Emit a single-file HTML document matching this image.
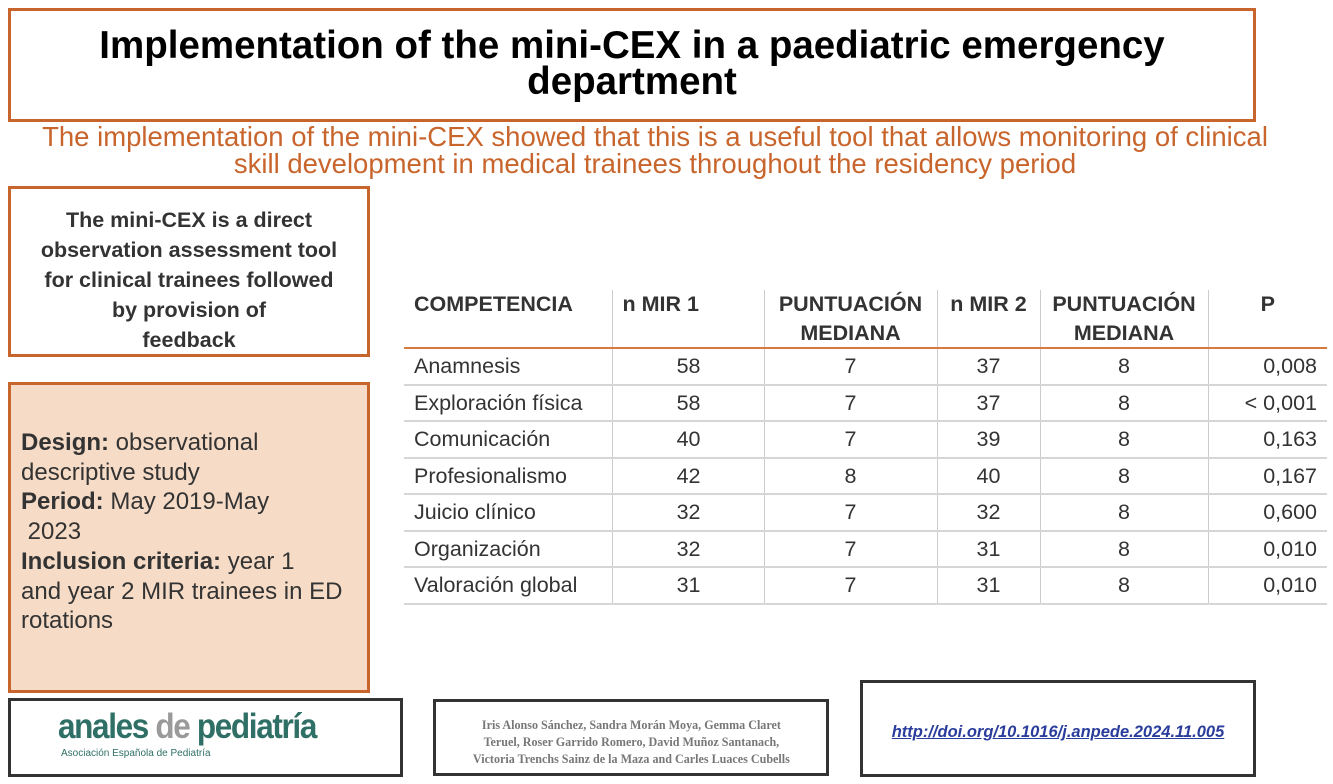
<!DOCTYPE html>
<html><head><meta charset="utf-8"><style>
body{margin:0;width:1333px;height:784px;background:#fff;position:relative;overflow:hidden;font-family:"Liberation Sans",sans-serif}
.abs{position:absolute;box-sizing:border-box}
#title{left:8px;top:8px;width:1248px;height:114px;border:3px solid #c8652c;text-align:center;font-weight:bold;font-size:38.5px;line-height:36px;padding-top:17px;color:#000}
#sub{left:0;top:123px;width:1310px;text-align:center;color:#c8652c;font-size:27.5px;line-height:27px}
#b1{left:8px;top:186px;width:362px;height:171px;border:3px solid #c8652c;text-align:center;font-weight:bold;font-size:21.5px;line-height:30px;color:#333;padding-top:16px}
#b2{left:8px;top:382px;width:362px;height:311px;border:3px solid #c8652c;background:#f6dcc6;font-size:24px;line-height:29.7px;color:#333;padding:43px 0 0 10px}
table{border-collapse:collapse;font-size:21.5px;color:#333}
td,th{padding:0 10px;border-left:1px solid #ccc}
td:first-child,th:first-child{border-left:none}
th{font-weight:bold;height:56px;vertical-align:top;line-height:28.5px;padding-top:0;border-bottom:2px solid #d67a3e}
td{height:34.5px;border-bottom:2px solid #d6d6d6;line-height:34px;padding-top:0;padding-bottom:0}
.bx{border:3px solid #333;background:#fff}
</style></head><body>
<div id="title" class="abs">Implementation of the mini-CEX in a paediatric emergency<br>department</div>
<div id="sub" class="abs">The implementation of the mini-CEX showed that this is a useful tool that allows monitoring of clinical<br>skill development in medical trainees throughout the residency period</div>
<div id="b1" class="abs">The mini-CEX is a direct<br>observation assessment tool<br>for clinical trainees followed<br>by provision of<br>feedback</div>
<div id="b2" class="abs"><b>Design:</b> observational<br>descriptive study<br><b>Period:</b> May 2019-May<br>&nbsp;2023<br><b>Inclusion criteria:</b> year 1<br>and year 2 MIR trainees in ED<br>rotations</div>
<table class="abs" style="left:404px;top:290px;width:923px">
<colgroup><col style="width:208px"><col style="width:152px"><col style="width:173px"><col style="width:103px"><col style="width:168px"><col style="width:119px"></colgroup>
<tr><th style="text-align:left">COMPETENCIA</th><th style="text-align:left">n MIR 1</th><th>PUNTUACIÓN<br>MEDIANA</th><th style="padding:0">n MIR 2</th><th>PUNTUACIÓN<br>MEDIANA</th><th>P</th></tr>
<tbody id="tb"></tbody></table>
<div class="abs bx" style="left:8px;top:698px;width:395px;height:79px">
<div style="position:absolute;left:47px;top:6px;font-size:35px;font-weight:bold;color:#2f6f66;letter-spacing:-1.5px;transform:scaleX(0.9);transform-origin:left">anales <span style="color:#9a9a9a">de</span> pediatría</div>
<div style="position:absolute;left:50px;top:47px;font-size:10px;color:#2f6f66">Asociación Española de Pediatría</div></div>
<div class="abs bx" style="left:433px;top:699px;width:396px;height:77px;font-family:'Liberation Serif',serif;font-weight:bold;font-size:13px;color:#777;line-height:17px;padding:14px 10px 0 10px;text-align:center;white-space:nowrap"><span style="display:inline-block;transform:scaleX(0.93)">Iris Alonso Sánchez, Sandra Morán Moya, Gemma Claret<br>Teruel, Roser Garrido Romero, David Muñoz Santanach,<br>Victoria Trenchs Sainz de la Maza and Carles Luaces Cubells</span></div>
<div class="abs bx" style="left:860px;top:680px;width:396px;height:97px;text-align:center;padding-top:40px"><span style="color:#2a3d9c;font-style:italic;font-weight:bold;font-size:16.5px;text-decoration:underline">http://doi.org/10.1016/j.anpede.2024.11.005</span></div>
<script>
const competencias=["Anamnesis","Exploración física","Comunicación","Profesionalismo","Juicio clínico","Organización","Valoración global"];
const nMir1=[58,58,40,42,32,32,31];
const med1=[7,7,7,8,7,7,7];
const nMir2=[37,37,39,40,32,31,31];
const med2=[8,8,8,8,8,8,8];
const pVals=["0,008","< 0,001","0,163","0,167","0,600","0,010","0,010"];
const tb=document.getElementById('tb');
competencias.forEach((c,i)=>{
 const tr=document.createElement('tr');
 
 
 const cells=[[c,'left'],[nMir1[i],'right;padding-right:63px'],[med1[i],'center'],[nMir2[i],'center'],[med2[i],'center'],[pVals[i],'right']];
 cells.forEach(([v,a])=>{const td=document.createElement('td');td.setAttribute('style','text-align:'+a);td.textContent=v;tr.appendChild(td);});
 tb.appendChild(tr);
});
</script>
</body></html>
